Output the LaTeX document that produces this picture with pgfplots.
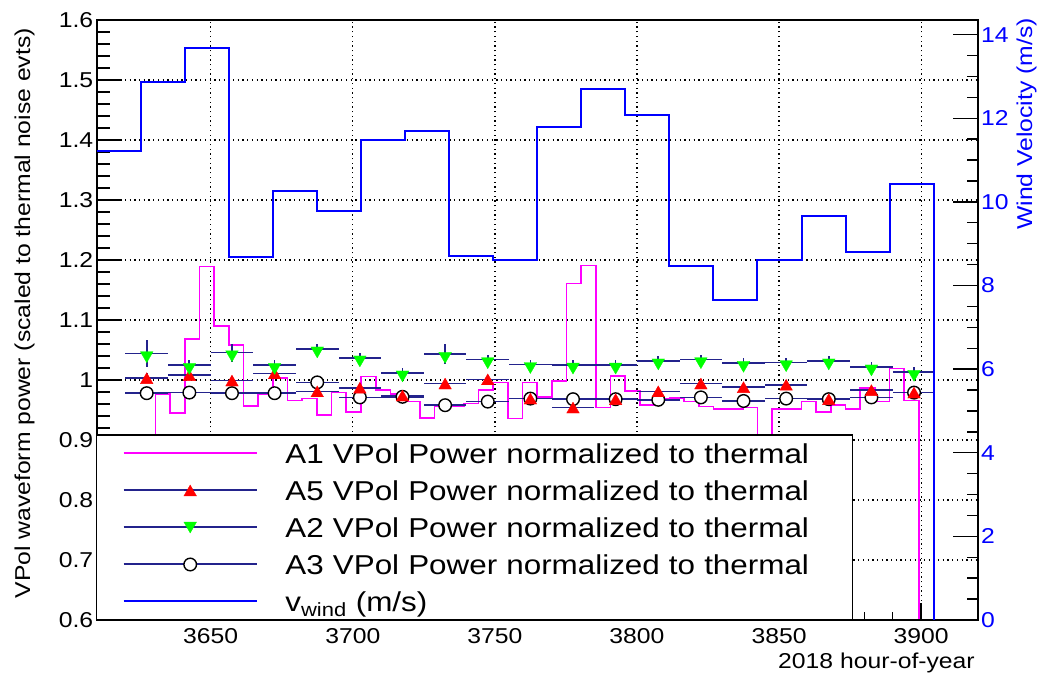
\documentclass[border=0pt]{standalone}
\usepackage{fontspec}
\setmainfont{Liberation Sans}[FakeStretch=1.15]
\usepackage{pgfplots}
\pgfplotsset{compat=1.18}
\usepackage{pgfplotstable}

\definecolor{mag}{RGB}{255,0,255}
\definecolor{wblue}{RGB}{0,0,255}
\definecolor{mgreen}{RGB}{0,255,0}
\definecolor{mred}{RGB}{255,0,0}
\definecolor{navy}{RGB}{35,35,140}

\newcommand{\tfont}{\fontsize{21.5bp}{25bp}\selectfont}
\newcommand{\lfont}{\fontsize{27.3bp}{32bp}\selectfont}

\pgfplotstableread{
x w
3609.9 11.21
3625.4 12.87
3640.9 13.67
3656.4 8.68
3671.9 10.27
3687.4 9.79
3702.9 11.49
3718.4 11.69
3733.9 8.70
3749.4 8.62
3764.9 11.80
3780.4 12.70
3795.9 12.07
3811.4 8.46
3826.9 7.65
3842.4 8.62
3857.9 9.66
3873.4 8.80
3888.9 10.42
3904.4 0
}\windtab

\pgfplotstableread{
x a1
3609.90 0
3630.57 0.977
3635.73 0.945
3640.90 1.068
3646.07 1.189
3651.23 1.090
3656.40 1.058
3661.57 0.957
3666.73 0.977
3671.90 1.003
3677.07 0.966
3682.23 0.969
3687.40 0.942
3692.57 0.979
3697.73 0.947
3702.90 1.006
3708.07 0.983
3713.23 0.977
3718.40 0.964
3723.57 0.937
3728.73 0.956
3733.90 0.957
3739.07 0.961
3744.23 0.983
3749.40 0.996
3754.57 0.936
3759.73 0.996
3764.90 0.972
3770.07 0.998
3775.23 1.161
3780.40 1.191
3785.57 0.954
3790.73 1.007
3795.90 0.982
3801.07 0.958
3806.23 0.969
3811.40 0.970
3816.57 0.964
3821.73 0.956
3826.90 0.952
3832.07 0.952
3837.23 0.954
3842.40 0.85
3847.57 0.952
3852.73 0.952
3857.90 0.964
3863.07 0.947
3868.23 0.958
3873.40 0.952
3878.57 0.987
3883.73 0.964
3888.90 1.019
3894.07 0.966
3899.23 0
}\aonetab

\pgfplotstableread{
x a5 a2 a3 ex e5 e2 e3
3627.5 1.003 1.044 0.978 7.5 0.008 0.022 0.004
3642.5 1.008 1.0245 0.979 7.5 0.008 0.008 0.004
3657.5 0.999 1.0456 0.978 7.5 0.008 0.015 0.004
3672.5 1.011 1.0245 0.978 7.5 0.008 0.008 0.004
3687.5 0.981 1.052 0.996 7.5 0.008 0.008 0.004
3702.5 0.987 1.037 0.971 7.5 0.008 0.008 0.004
3717.5 0.974 1.012 0.972 7.5 0.008 0.008 0.004
3732.5 0.994 1.043 0.958 7.5 0.008 0.017 0.004
3747.5 1.001 1.034 0.964 7.5 0.008 0.008 0.004
3762.5 0.969 1.026 0.969 7.5 0.008 0.008 0.004
3777.5 0.954 1.025 0.968 7.5 0.008 0.008 0.004
3792.5 0.968 1.025 0.968 7.5 0.008 0.008 0.004
3807.5 0.981 1.032 0.967 7.5 0.008 0.008 0.004
3822.5 0.994 1.034 0.971 7.5 0.008 0.008 0.004
3837.5 0.988 1.028 0.965 7.5 0.008 0.008 0.004
3852.5 0.992 1.029 0.969 7.5 0.008 0.008 0.004
3867.5 0.968 1.032 0.968 7.5 0.008 0.008 0.004
3882.5 0.983 1.022 0.971 7.5 0.008 0.008 0.004
3897.5 0.979 1.013 0.979 7.5 0.008 0.008 0.004
}\ptab

\pgfplotsset{
  base/.style={
    at={(96.7bp,54bp)}, anchor=south west,
    width=881bp, height=600bp, scale only axis,
    xmin=3609.9, xmax=3919.9,
    tick label style={font=\tfont},
    axis line style={black, line width=1.6bp},
    every tick/.style={black, line width=1.4bp},
    tick align=inside,
  },
  legA/.style={legend image code/.code={
    \path[draw=none] (0bp,0bp) -- (188.7bp,0bp);
    \path[draw=mag, line width=2bp] (27bp,0bp) -- (160bp,0bp);}},
  legB/.style={legend image code/.code={
    \path[draw=none] (0bp,0bp) -- (188.7bp,0bp);
    \path[draw=navy, line width=2bp] (27bp,0bp) -- (160bp,0bp);
    \path[draw=none] plot[only marks, mark=triangle*, mark size=7.3bp, mark options={fill=mred, draw=mred, line width=0.3bp}] coordinates {(93.5bp,-1.8bp)};}},
  legC/.style={legend image code/.code={
    \path[draw=none] (0bp,0bp) -- (188.7bp,0bp);
    \path[draw=navy, line width=2bp] (27bp,0bp) -- (160bp,0bp);
    \path[draw=none] plot[only marks, mark=triangle*, mark size=7.3bp, mark options={rotate=180, fill=mgreen, draw=mgreen, line width=0.3bp}] coordinates {(93.5bp,1.8bp)};}},
  legD/.style={legend image code/.code={
    \path[draw=none] (0bp,0bp) -- (188.7bp,0bp);
    \path[draw=navy, line width=2bp] (27bp,0bp) -- (160bp,0bp);
    \path[draw=none] plot[only marks, mark=*, mark size=6.3bp, mark options={fill=white, draw=black, line width=1.4bp}] coordinates {(93.5bp,0bp)};}},
  legE/.style={legend image code/.code={
    \path[draw=none] (0bp,0bp) -- (188.7bp,0bp);
    \path[draw=wblue, line width=2bp] (27bp,0bp) -- (160bp,0bp);}},
}

\begin{document}
\begin{tikzpicture}
\useasboundingbox (0,0) rectangle (1040bp,674bp);

% grid and frame
\begin{axis}[base,
  ymin=0.6, ymax=1.6,
  xtick={3650,3700,3750,3800,3850,3900},
  ytick={0.7,0.8,0.9,1.0,1.1,1.2,1.3,1.4,1.5},
  xticklabels={,,,,,}, yticklabels={,,,,,,,,},
  major tick length=0pt,
  grid=major,
  major grid style={black, line width=1.3bp, dash pattern=on 1.3bp off 3.4bp},
]
\end{axis}

% x ticks and label
\begin{axis}[base,
  ymin=0.6, ymax=1.6,
  ytick=\empty,
  xtick={3650,3700,3750,3800,3850,3900},
  xticklabels={3650,3700,3750,3800,3850,3900},
  minor x tick num=4,
  xtick pos=left,
  major tick length=17bp, minor tick length=8bp,
  xticklabel style={yshift=-4.5bp},
  xlabel={2018 hour-of-year},
  xlabel style={font=\tfont, at={(axis description cs:0.9969,-0.08)}, anchor=base east, inner sep=0pt},
]
\end{axis}

% left y axis and data
\begin{axis}[base,
  ymin=0.6, ymax=1.6,
  xtick=\empty,
  ytick={0.6,0.7,0.8,0.9,1.0,1.1,1.2,1.3,1.4,1.5,1.6},
  yticklabels={0.6,0.7,0.8,0.9,1,1.1,1.2,1.3,1.4,1.5,1.6},
  minor y tick num=4,
  ytick pos=left,
  major tick length=25bp, minor tick length=13bp,
  ylabel={VPol waveform power (scaled to thermal noise evts)},
  ylabel style={font=\tfont, at={(axis description cs:-0.0755,0.9867)}, anchor=base east, inner sep=0pt},
]
\addplot[draw=mag, line width=1.7bp, const plot mark left, no marks] table[x=x, y=a1] {\aonetab};

\addplot[only marks, mark=*, mark size=6.3bp,
  mark options={fill=white, draw=black, line width=1.4bp},
  error bars/.cd, x dir=both, x explicit, y dir=both, y explicit,
  error mark=none, error bar style={draw=navy, line width=1.7bp}]
  table[x=x, y=a3, x error=ex, y error=e3] {\ptab};

\addplot[only marks, mark=triangle*, mark size=7.3bp,
  mark options={fill=mred, draw=mred, line width=0.3bp, yshift=-1.8bp},
  error bars/.cd, x dir=both, x explicit, y dir=both, y explicit,
  error mark=none, error bar style={draw=navy, line width=1.7bp}]
  table[x=x, y=a5, x error=ex, y error=e5] {\ptab};

\addplot[only marks, mark=triangle*, mark size=7.3bp,
  mark options={rotate=180, fill=mgreen, draw=mgreen, line width=0.3bp, yshift=1.8bp},
  error bars/.cd, x dir=both, x explicit, y dir=both, y explicit,
  error mark=none, error bar style={draw=navy, line width=1.7bp}]
  table[x=x, y=a2, x error=ex, y error=e2] {\ptab};
\end{axis}

% right axis: wind
\begin{axis}[base,
  ymin=0, ymax=14.35,
  xtick=\empty,
  ytick={0,2,4,6,8,10,12,14},
  yticklabels={0,2,4,6,8,10,12,14},
  minor y tick num=3,
  ytick pos=right,
  major tick length=25bp, minor tick length=11bp,
  yticklabel style={wblue},
  ylabel={Wind Velocity (m/s)},
  ylabel style={font=\tfont, wblue, at={(axis description cs:1.0617,1.0033)}, anchor=base east, inner sep=0pt},
  legend style={at={(0,0)}, anchor=south west, draw=black, line width=1.2bp, fill=white,
    inner sep=0pt, outer sep=0pt, row sep=0pt, column sep=0pt, font=\lfont,
    nodes={inner sep=0pt, text height=19.5bp, text depth=0bp, minimum height=37bp,
      text width=567bp, align=left}},
  legend cell align=left,
]
\addplot[draw=wblue, line width=2bp, const plot mark left, no marks, forget plot] table[x=x, y=w] {\windtab};
\addlegendimage{legA}
\addlegendentry{A1 VPol Power normalized to thermal}
\addlegendimage{legB}
\addlegendentry{A5 VPol Power normalized to thermal}
\addlegendimage{legC}
\addlegendentry{A2 VPol Power normalized to thermal}
\addlegendimage{legD}
\addlegendentry{A3 VPol Power normalized to thermal}
\addlegendimage{legE}
\addlegendentry{v\textsubscript{wind} (m/s)}
\end{axis}
\end{tikzpicture}
\end{document}
